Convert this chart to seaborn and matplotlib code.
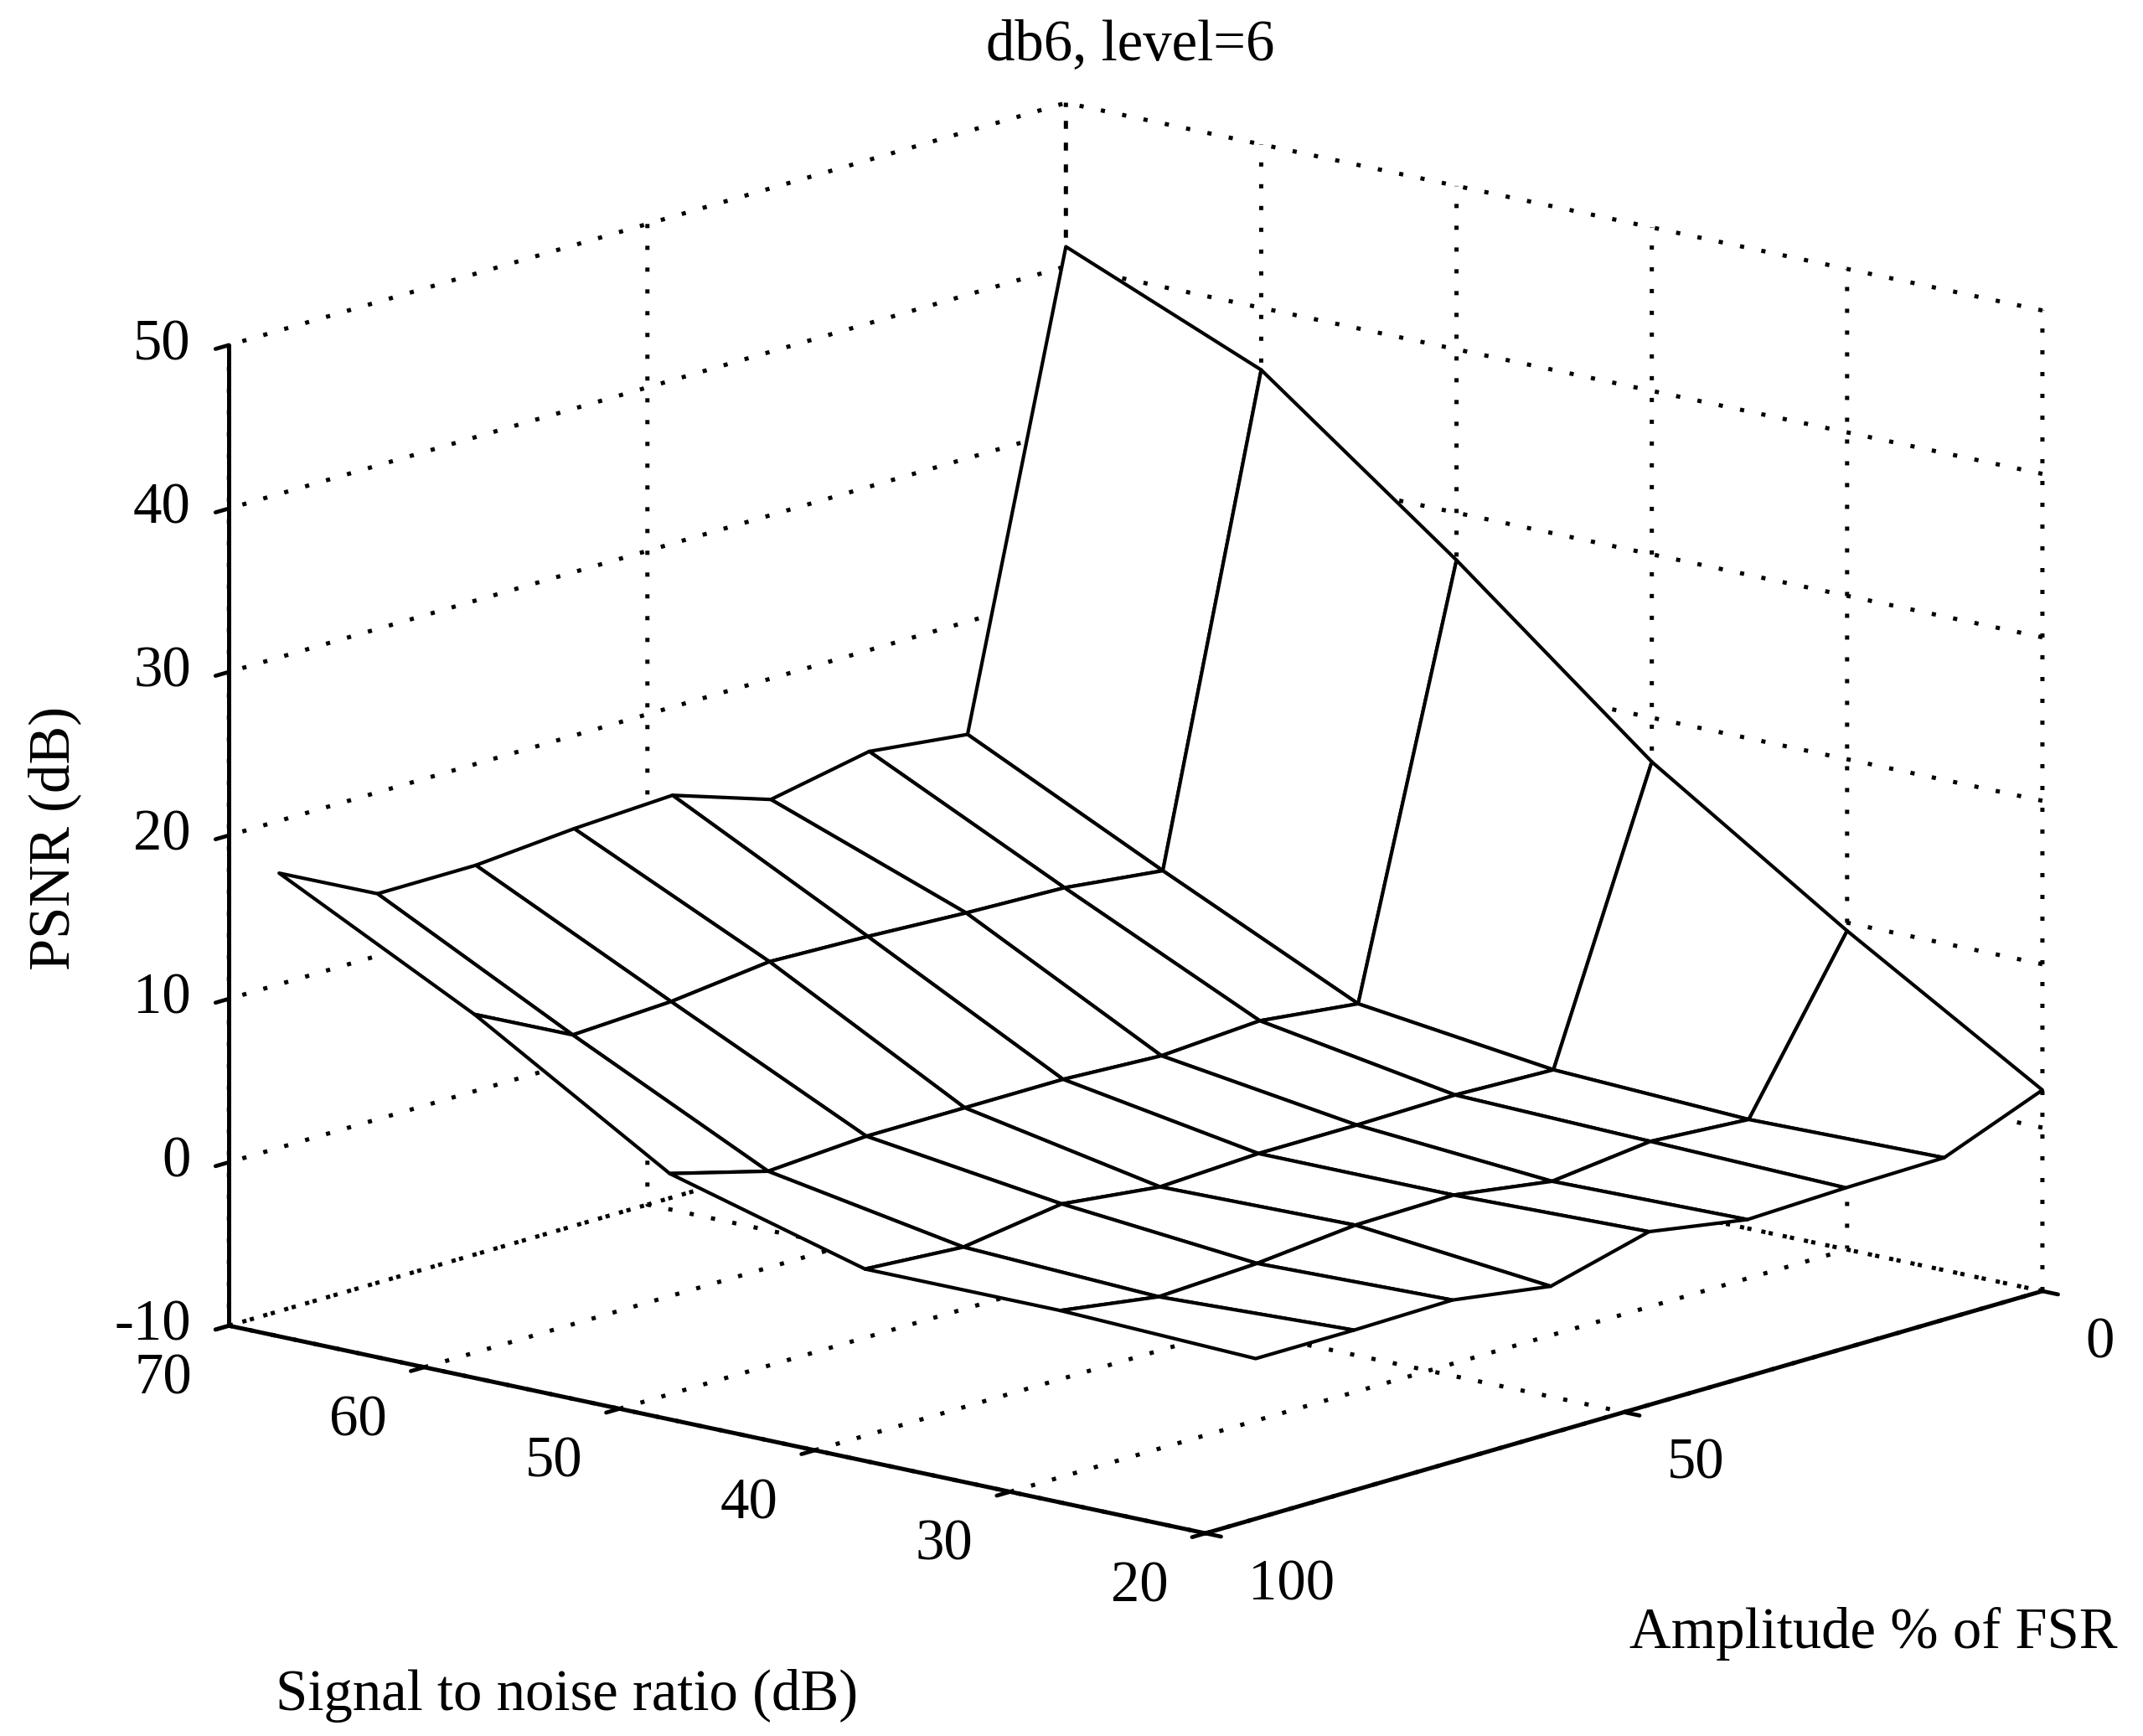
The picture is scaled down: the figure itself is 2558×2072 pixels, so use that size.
import numpy as np
import matplotlib
matplotlib.use('Agg')
import matplotlib.pyplot as plt
from matplotlib.transforms import ScaledTranslation
import seaborn as sns

snr = [70, 60, 50, 40, 30, 20]
amp = [0, 11.75, 23.5, 35.25, 47, 58.75, 70.5, 82.25, 94]

psnr_70 = [41.2, 13.1, 13.8, 12.6, 14.6, 14.3, 13.8, 13.8, 16.8]
psnr_60 = [36.2, 7.3, 8.0, 8.2, 8.5, 8.7, 8.0, 7.7, 10.7]
psnr_50 = [27.1, 1.7, 2.4, 2.0, 2.3, 2.3, 2.3, 1.9, 3.5]
psnr_40 = [17.3, 0.2, 0.4, 0.3, 0.3, 0.0, 0.7, -0.2, 0.2]
psnr_30 = [9.5, -0.3, 0.1, -0.6, 0.3, 0.2, -0.4, -0.7, 0.2]
psnr_20 = [2.3, -0.1, -0.2, -0.4, 0.6, -1.0, -0.1, -0.2, -0.2]

snr_ticks = [20, 30, 40, 50, 60, 70]
amp_ticks = [0, 50, 100]
z_ticks = [-10, 0, 10, 20, 30, 40, 50]

sns.set_theme(style='white', rc={
    'grid.color': 'black',
    'grid.linewidth': 3.6,
    'grid.linestyle': (0, (1, 4.2)),
    'axes.edgecolor': 'black',
    'axes.linewidth': 3.6,
    'axes.unicode_minus': False,
    'xtick.major.width': 3.4,
    'ytick.major.width': 3.4,
    'xtick.color': 'black',
    'ytick.color': 'black',
    'text.color': 'black',
    'axes.grid': True,
})
plt.rcParams['font.family'] = ['Liberation Serif', 'DejaVu Serif']
FS = 49.5

fig = plt.figure(figsize=(25.58, 20.72), dpi=100)
ax = fig.add_axes([117 / 2558, -143 / 2072, 2412 / 2558, 2412 / 2072], projection='3d')
ax.set_proj_type('ortho')
ax.view_init(elev=14.36, azim=130.6)
ax.set_box_aspect((1, 1, 0.787))
ax.patch.set_alpha(0)

X, Y = np.meshgrid(snr, amp)
Z = np.array([psnr_70, psnr_60, psnr_50, psnr_40, psnr_30, psnr_20]).T
ax.plot_surface(X, Y, Z, rstride=1, cstride=1, color='white', edgecolor='black',
                linewidth=3.0, shade=False)

ax.set_xlim(20, 70, view_margin=0)
ax.set_ylim(0, 100, view_margin=0)
ax.set_zlim(-10, 50, view_margin=0)
ax.set_xticks(snr_ticks)
ax.set_yticks(amp_ticks)
ax.set_zticks(z_ticks)
ax.tick_params(labelsize=FS, pad=32)
ax.tick_params(axis='z', pad=11)

for axis in (ax.xaxis, ax.yaxis, ax.zaxis):
    axis.pane.set_facecolor('white')
    axis.pane.set_edgecolor('white')
    axis._axinfo['tick']['inward_factor'] = 0.2
    axis._axinfo['tick']['outward_factor'] = 0
ax.zaxis.set_ticks_position('upper')

plt.setp(ax.xaxis.get_ticklabels(), ha='right', va='center')
plt.setp(ax.yaxis.get_ticklabels(), ha='left', va='center')
plt.setp(ax.zaxis.get_ticklabels(), ha='right', va='center')

# floor labels sit a little lower than the pad alone puts them
nudge = ScaledTranslation(0, -6 / 72, fig.dpi_scale_trans)
for lab in ax.xaxis.get_ticklabels() + ax.yaxis.get_ticklabels():
    lab.set_transform(lab.get_transform() + nudge)

fig.text(1349 / 2558, 1 - 54 / 2072, 'db6, level=6', fontsize=FS, ha='center', va='center')
fig.text(65 / 2558, 1 - 1000 / 2072, 'PSNR (dB)', fontsize=FS, ha='center', va='center', rotation=90)
fig.text(2236 / 2558, 1 - 1950 / 2072, 'Amplitude % of FSR', fontsize=FS, ha='center', va='center')
fig.text(677 / 2558, 1 - 2024 / 2072, 'Signal to noise ratio (dB)', fontsize=FS, ha='center', va='center')

fig.savefig('out.png', dpi=100, facecolor='white')
